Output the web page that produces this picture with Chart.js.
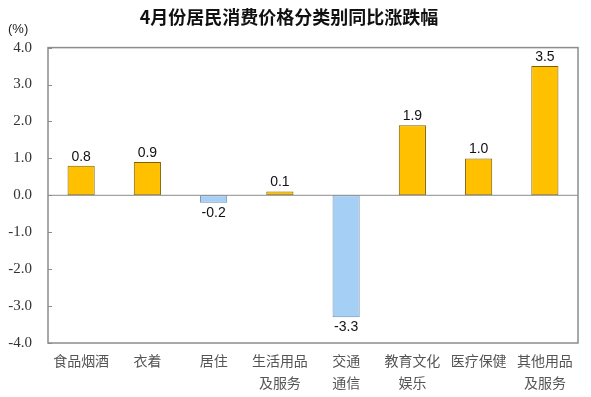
<!DOCTYPE html>
<html>
<head>
<meta charset="utf-8">
<script src="https://cdn.jsdelivr.net/npm/chart.js@4/dist/chart.umd.min.js"></script>
<style>
  html, body { margin: 0; padding: 0; background: #fff; }
  #wrap { width: 591px; height: 397px; position: relative; }
</style>
</head>
<body>
<div id="wrap"><canvas id="cpiChart" width="591" height="397"></canvas></div>
<script>
// 类别与数值（同比涨跌幅，%）
const categories = [
  '食品烟酒', '衣着', '居住', ['生活用品', '及服务'],
  ['交通', '通信'], ['教育文化', '娱乐'], '医疗保健', ['其他用品', '及服务']
];
const values = [0.8, 0.9, -0.2, 0.1, -3.3, 1.9, 1.0, 3.5];
const yTicks = [-4, -3, -2, -1, 0, 1, 2, 3, 4];

const UP_FILL = '#FFC000', UP_LINE = '#7F6000';
const DOWN_FILL = '#A6CFF5', DOWN_LINE = '#6F8FAF';

// 边框、零线、刻度短线、数值标签
const framePlugin = {
  id: 'frame',
  afterDatasetsDraw(chart) {
    const { ctx, chartArea: a, scales: { y } } = chart;
    ctx.save();
    ctx.strokeStyle = '#8c8c8c';
    ctx.lineWidth = 1.5;
    ctx.strokeRect(a.left, a.top, a.right - a.left, a.bottom - a.top);
    const z = y.getPixelForValue(0);
    ctx.lineWidth = 1;
    ctx.beginPath();
    ctx.moveTo(a.left, z);
    ctx.lineTo(a.right, z);
    ctx.stroke();
    yTicks.forEach(t => {
      const py = Math.round(y.getPixelForValue(t)) + 0.5;
      ctx.beginPath();
      ctx.moveTo(a.left, py);
      ctx.lineTo(a.left + 4, py);
      ctx.stroke();
    });

    const meta = chart.getDatasetMeta(0);
    ctx.fillStyle = '#111';
    ctx.font = '14px "Liberation Sans", Arial, sans-serif';
    ctx.textAlign = 'center';
    meta.data.forEach((bar, i) => {
      const v = values[i];
      const label = v.toFixed(1);
      if (v >= 0) {
        ctx.textBaseline = 'bottom';
        ctx.fillText(label, bar.x, bar.y - 2);
      } else {
        ctx.textBaseline = 'top';
        ctx.fillText(label, bar.x, bar.y + 3);
      }
    });

    ctx.fillStyle = '#222';
    ctx.font = '13px "Liberation Sans", Arial, sans-serif';
    ctx.textAlign = 'left';
    ctx.textBaseline = 'middle';
    ctx.fillText('(%)', 8, 29);
    ctx.restore();
  }
};

new Chart(document.getElementById('cpiChart').getContext('2d'), {
  type: 'bar',
  data: {
    labels: categories,
    datasets: [{
      data: values,
      backgroundColor: values.map(v => v >= 0 ? UP_FILL : DOWN_FILL),
      borderColor: values.map(v => v >= 0 ? UP_LINE : DOWN_LINE),
      borderWidth: 1,
      borderSkipped: false,
      categoryPercentage: 1,
      barPercentage: 0.41
    }]
  },
  options: {
    responsive: false,
    animation: false,
    devicePixelRatio: 1,
    layout: { padding: { top: 0, right: 13, bottom: 0, left: 0 } },
    plugins: {
      legend: { display: false },
      tooltip: { enabled: false },
      title: {
        display: true,
        text: '4月份居民消费价格分类别同比涨跌幅',
        color: '#111',
        font: { family: '"Noto Sans CJK SC", sans-serif', size: 18, weight: 'bold' },
        padding: { top: 6, bottom: 20 }
      }
    },
    scales: {
      x: {
        afterFit(scale) { scale.height = 54; },
        grid: { display: false, drawTicks: false },
        border: { display: false },
        ticks: {
          color: '#555',
          font: { family: '"Noto Sans CJK SC", sans-serif', size: 14, lineHeight: 1.6 },
          padding: 6,
          maxRotation: 0,
          autoSkip: false
        }
      },
      y: {
        min: -4,
        max: 4,
        afterFit(scale) { scale.width = 48; },
        afterBuildTicks(scale) { scale.ticks = yTicks.map(v => ({ value: v })); },
        grid: { display: false, drawTicks: false },
        border: { display: false },
        ticks: {
          color: '#333',
          padding: 16,
          font: { family: '"Liberation Serif", "Times New Roman", serif', size: 15 },
          callback: v => v.toFixed(1)
        }
      }
    }
  },
  plugins: [framePlugin]
});
</script>
</body>
</html>
